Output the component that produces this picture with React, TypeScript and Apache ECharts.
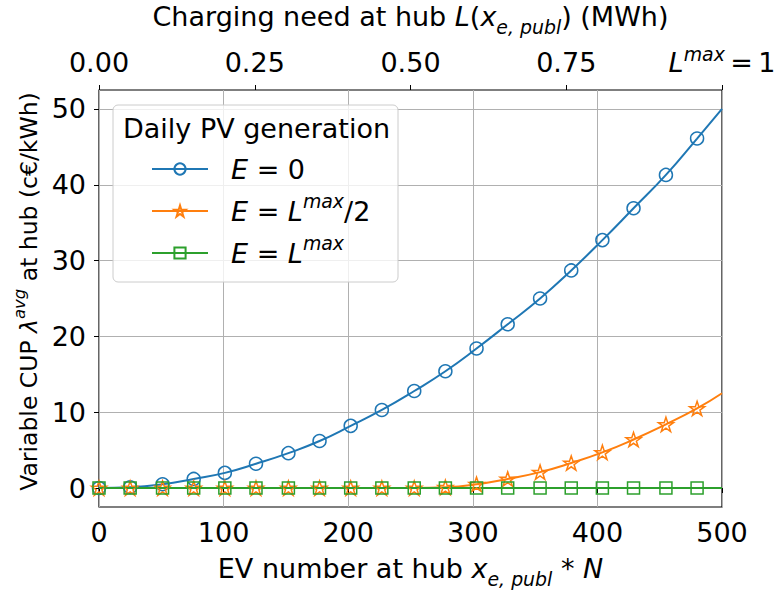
import React, { useEffect, useRef } from 'react';
import * as echarts from 'echarts';

// EV numbers at hub (marker positions + final curve point)
const evNumbers = [0, 25, 51, 76, 101, 126, 152, 177, 202, 227, 253, 278, 303, 328, 354, 379, 404, 429, 455, 480, 500];
// Variable CUP (c€/kWh)
const cupE0 = [0, 0.1, 0.5, 1.2, 2.0, 3.2, 4.6, 6.2, 8.2, 10.3, 12.8, 15.4, 18.4, 21.6, 25.0, 28.7, 32.7, 36.9, 41.3, 46.1, 50.0];
const cupEHalf = [0, 0, 0, 0, 0, 0, 0, 0, 0, 0, 0, 0.1, 0.5, 1.2, 2.1, 3.3, 4.7, 6.4, 8.4, 10.5, 12.5];
const cupEMax = [0, 0, 0, 0, 0, 0, 0, 0, 0, 0, 0, 0, 0, 0, 0, 0, 0, 0, 0, 0, 0];

const bottomTicks = [0, 100, 200, 300, 400, 500];
const yTicks = [0, 10, 20, 30, 40, 50];
const topTicks = [0, 0.25, 0.5, 0.75, 1];

const seriesNames = ['E0', 'EHalf', 'EMax'];
const legendLabels: Record<string, string> = {
  E0: '{i|E} = 0',
  EHalf: '{i|E} = {i|L}{sup|max}/2',
  EMax: '{i|E} = {i|L}{sup|max}',
};
const legendTitle = 'Daily PV generation';

const FONT = 'DejaVu Sans';
const FS = 27;
const FS_Y = 23.5;
const BLUE = '#1f77b4';
const ORANGE = '#ff7f0e';
const GREEN = '#2ca02c';

const STAR = 'path://M0,-1L0.2245,-0.309L0.951,-0.309L0.363,0.118L0.588,0.809L0,0.382L-0.588,0.809L-0.363,0.118L-0.951,-0.309L-0.2245,-0.309Z';

const makeRich = (fs: number, lh: number, supLh: number, subLh: number) => ({
  i: { fontFamily: FONT, fontStyle: 'italic', fontSize: fs, lineHeight: lh, color: '#000' },
  n: { fontFamily: FONT, fontSize: fs, lineHeight: lh, color: '#000' },
  sup: { fontFamily: FONT, fontStyle: 'italic', fontSize: fs * 0.7, lineHeight: supLh, verticalAlign: 'top', color: '#000' },
  sub: { fontFamily: FONT, fontStyle: 'italic', fontSize: fs * 0.7, lineHeight: subLh, verticalAlign: 'bottom', color: '#000' },
});

const buildData = (ys: number[]) =>
  evNumbers.map((x, i) => (i === evNumbers.length - 1 ? { value: [x, ys[i]], symbol: 'none' } : [x, ys[i]]));

export default function App() {
  const ref = useRef<HTMLDivElement>(null);
  useEffect(() => {
    if (!ref.current) return;
    const chart = echarts.init(ref.current, undefined, { renderer: 'svg' });
    const nameRich = makeRich(FS, 40, 18, 23);
    const yNameRich = makeRich(FS_Y, 36, 16, 20);
    const labelRich = makeRich(FS, 36, 16, 20);
    const option: any = {
      animation: false,
      backgroundColor: '#fff',
      textStyle: { fontFamily: FONT },
      grid: {
        left: 99, right: 55, top: 90, bottom: 85,
        containLabel: false, outerBoundsMode: 'none',
        show: true, borderColor: '#000', borderWidth: 1.2, backgroundColor: 'transparent',
      },
      xAxis: [
        {
          type: 'value', position: 'bottom', min: 0, max: 500, interval: 100,
          axisLine: { show: false },
          axisTick: { show: true, inside: false, length: 5, lineStyle: { color: '#000', width: 1 } },
          axisLabel: { fontFamily: FONT, fontSize: FS, color: '#000', margin: 7, lineHeight: 36,
            customValues: bottomTicks },
          splitLine: { show: true, lineStyle: { color: '#b0b0b0', width: 1 } },
          name: 'EV number at hub {i|x}{sub|e, publ} * {i|N}',
          nameLocation: 'middle', nameGap: 41, nameMoveOverlap: false,
          nameTextStyle: { fontFamily: FONT, fontSize: FS, color: '#000', lineHeight: 40, rich: nameRich },
        },
        {
          type: 'value', position: 'top', min: 0, max: 1, interval: 0.25,
          axisLine: { show: false },
          axisTick: { show: true, inside: false, length: 5, lineStyle: { color: '#000', width: 1 } },
          axisLabel: {
            fontFamily: FONT, fontSize: FS, color: '#000', margin: 10, lineHeight: 36, rich: labelRich,
            customValues: topTicks,
            formatter: (v: number) => (Math.abs(v - 1) < 1e-9 ? '{i|L}{sup|max}{n|\u2009=\u20091}' : v.toFixed(2)),
          },
          splitLine: { show: false },
          name: 'Charging need at hub {i|L}({i|x}{sub|e, publ}) (MWh)',
          nameLocation: 'middle', nameGap: 54, nameMoveOverlap: false,
          nameTextStyle: { fontFamily: FONT, fontSize: FS, color: '#000', lineHeight: 40, rich: nameRich },
        },
      ],
      yAxis: {
        type: 'value', min: -2.5, max: 52.5,
        axisLine: { show: false },
        axisTick: { show: true, inside: false, length: 5, lineStyle: { color: '#000', width: 1 }, customValues: yTicks },
        axisLabel: {
          fontFamily: FONT, fontSize: FS, color: '#000', margin: 13, customValues: yTicks,
          formatter: (v: number) => (Math.abs(v % 10) < 1e-9 ? String(v) : ''),
        },
        splitLine: { show: true, lineStyle: { color: '#b0b0b0', width: 1 } },
        name: 'Variable CUP {i|λ}{sup|avg} at hub (c€/kWh)',
        nameLocation: 'middle', nameGap: 52, nameMoveOverlap: false,
        nameTextStyle: { fontFamily: FONT, fontSize: FS_Y, color: '#000', lineHeight: 36, rich: yNameRich, padding: [0, 0, 0, 14] },
      },
      legend: {
        orient: 'vertical', left: 151, top: 149, padding: 0, itemGap: 2,
        itemWidth: 56, itemHeight: 14, z: 20,
        data: seriesNames,
        formatter: (name: string) => legendLabels[name],
        textStyle: { fontFamily: FONT, fontSize: FS, color: '#000', lineHeight: 40, padding: [0, 0, 0, 18], rich: nameRich },
      },
      graphic: [
        {
          type: 'rect', z: 10, shape: { x: 113, y: 105, width: 285, height: 177, r: 5 },
          style: { fill: 'rgba(255,255,255,0.8)', stroke: '#cccccc', lineWidth: 1 },
        },
        {
          type: 'text', z: 20, x: 123, y: 128,
          style: { text: legendTitle, fontFamily: FONT, fontSize: FS, fill: '#000', verticalAlign: 'middle', align: 'left' },
        },
      ],
      series: [
        {
          name: 'E0', type: 'line', xAxisIndex: 0, data: buildData(cupE0), smooth: true,
          symbol: 'circle', symbolSize: 13, showAllSymbol: true,
          lineStyle: { color: BLUE, width: 2 },
          itemStyle: { color: 'rgba(255,255,255,0)', borderColor: BLUE, borderWidth: 1.5 },
          emphasis: { disabled: true },
        },
        {
          name: 'EHalf', type: 'line', xAxisIndex: 0, data: buildData(cupEHalf), smooth: true,
          symbol: STAR, symbolSize: 15, symbolKeepAspect: true, showAllSymbol: true,
          lineStyle: { color: ORANGE, width: 2 },
          itemStyle: { color: 'rgba(255,255,255,0)', borderColor: ORANGE, borderWidth: 1.5 },
          emphasis: { disabled: true },
        },
        {
          name: 'EMax', type: 'line', xAxisIndex: 0, data: buildData(cupEMax), smooth: true,
          symbol: 'rect', symbolSize: 12, showAllSymbol: true,
          lineStyle: { color: GREEN, width: 2 },
          itemStyle: { color: 'rgba(255,255,255,0)', borderColor: GREEN, borderWidth: 1.5 },
          emphasis: { disabled: true },
        },
      ],
    };
    chart.setOption(option);
    return () => chart.dispose();
  }, []);
  return (
    <div
      ref={ref}
      style={{ position: 'absolute', left: 0, top: 0, width: 777, height: 592, background: '#fff' }}
    />
  );
}
